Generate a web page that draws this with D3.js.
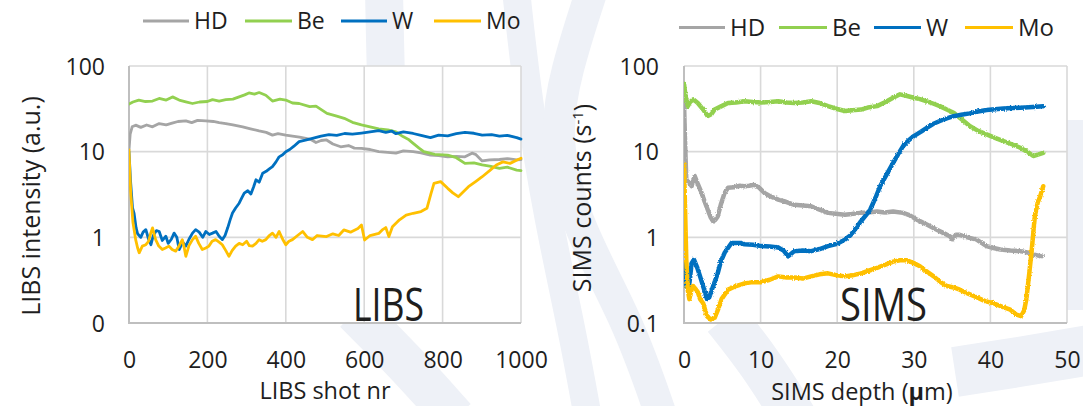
<!DOCTYPE html>
<html>
<head>
<meta charset="utf-8">
<script src="https://cdn.jsdelivr.net/npm/d3@7"></script>
<style>
  html, body { margin: 0; padding: 0; background: #ffffff; }
  svg { display: block; }
  text { font-family: "Open Sans", "Noto Sans", sans-serif; fill: #1e1e1e; }
</style>
</head>
<body>
<svg id="chart" width="1083" height="406"></svg>
<script>
// ---- series names / colours -------------------------------------------
const seriesNames  = ["HD", "Be", "W", "Mo"];
const seriesColors = ["#a5a5a5", "#92d050", "#0070c0", "#ffc000"];

// ---- axis ticks ----------------------------------------------------------
const logTicks        = [0.1, 1, 10, 100];
const libsYTickLabels = ["0", "1", "10", "100"];
const simsYTickLabels = ["0.1", "1", "10", "100"];
const libsShotTicks   = [0, 200, 400, 600, 800, 1000];
const simsDepthTicks  = [0, 10, 20, 30, 40, 50];

// ---- LIBS: [shot number, intensity (a.u.)] -----------------------------
const libsHD = [[0,10.5],[3,16],[8,19.5],[17,20.4],[30,19.2],[45,20.5],[60,19.5],[77,21.3],[95,20.5],[110,21.5],[125,22.5],[145,22.9],[160,21.8],[175,23.2],[196,22.9],[215,22.5],[230,21.8],[247,21.3],[265,20.5],[290,19.5],[310,18.5],[332,17.5],[350,16.8],[366,15.6],[380,16.2],[400,15.6],[417,15.2],[435,14.8],[451,14.3],[465,13.8],[477,12.8],[490,13.5],[504,13.7],[520,12.3],[540,11.4],[560,11.8],[575,11],[593,10.9],[615,10.6],[637,10],[660,9.8],[681,9.6],[700,10.2],[725,10],[745,9.7],[769,9.1],[790,9.0],[813,8.7],[835,8.8],[857,8.7],[875,9.6],[884,9.3],[901,7.8],[920,8.0],[945,8.1],[965,8.3],[989,8.0],[1000,8.1]];
const libsBe = [[0,36],[10,38],[25,40],[42,38.5],[60,39],[77,41.8],[95,40],[111,43.6],[128,40],[145,38.2],[162,36.5],[180,38],[200,38.5],[213,40.5],[230,39],[247,40.5],[265,41],[281,43.6],[295,46],[306,48.5],[320,47],[332,49],[349,45.5],[366,39],[385,41],[400,40],[417,37],[434,36.5],[461,33.5],[477,34],[505,28],[530,26],[549,24.5],[570,22],[593,20.5],[615,19.5],[637,18.5],[660,18],[681,17],[699,15],[712,14],[725,12.5],[740,11],[752,10],[780,9.3],[813,9.1],[835,8.5],[857,7.3],[880,7.4],[901,7.0],[920,6.8],[945,6.4],[965,6.6],[989,6.1],[1000,6.0]];
const libsW = [[0,10],[4,4.5],[9,2.2],[13,1.9],[18,1.3],[22,1.1],[30,1.0],[36,1.15],[43,1.23],[50,0.95],[56,0.82],[62,1.05],[70,1.2],[77,1.17],[85,0.92],[94,1.03],[100,0.85],[108,0.95],[115,1.12],[122,1.0],[128,0.72],[137,0.88],[145,0.79],[153,0.95],[162,1.12],[170,1.23],[179,1.15],[188,1.0],[196,1.17],[205,1.08],[213,1.12],[222,1.17],[230,1.03],[238,0.94],[245,1.05],[252,1.3],[258,1.6],[264,1.92],[272,2.2],[281,2.5],[288,2.9],[294,3.28],[303,3.5],[311,3.2],[318,3.9],[324,4.7],[332,4.4],[341,5.6],[350,5.9],[358,6.3],[366,6.7],[375,7.6],[383,8.7],[392,9.2],[400,10],[410,10.6],[420,11.5],[434,13.1],[450,13.6],[468,14.3],[490,15.2],[510,15.8],[530,15.5],[550,16.3],[570,16],[593,16.5],[615,17],[637,17.6],[655,16.8],[670,17.4],[681,16.2],[700,17],[725,16.3],[745,15.5],[769,14.6],[790,15.6],[813,15.3],[835,16.2],[857,16.8],[880,16.4],[901,15.6],[925,15.8],[945,15.2],[965,15.5],[989,14.6],[1000,14.0]];
const libsMo = [[0,10.5],[2,6],[4.4,3.3],[10,1.5],[17,0.94],[22,0.75],[26,0.66],[34,0.79],[43,0.82],[50,0.9],[55,1.1],[60,1.29],[64,1.1],[68,0.94],[76,0.79],[85,0.72],[93,0.75],[102,0.79],[110,0.72],[119,0.69],[128,0.8],[136,0.94],[141,0.75],[145,0.6],[153,0.8],[162,0.94],[170,1.03],[178,0.85],[187,0.72],[196,0.75],[204,0.79],[212,0.9],[221,0.94],[230,0.88],[238,0.82],[247,0.7],[255,0.6],[263,0.7],[272,0.79],[281,0.85],[290,0.82],[300,0.9],[307,0.8],[315,0.79],[324,0.85],[332,0.94],[340,0.9],[349,0.94],[358,1.05],[366,1.12],[375,1.0],[383,1.17],[392,0.95],[400,0.82],[408,0.9],[417,0.94],[430,1.05],[443,1.17],[455,1.0],[468,0.94],[480,1.05],[504,1.02],[520,1.1],[535,1.05],[548,1.22],[565,1.15],[584,1.27],[593,1.39],[601,0.93],[615,1.05],[637,1.11],[646,1.22],[655,1.3],[663,1.02],[672,1.33],[690,1.6],[707,1.82],[725,1.91],[745,2.0],[760,2.18],[770,3.2],[778,4.27],[795,4.47],[813,3.73],[826,3.3],[840,2.98],[853,3.4],[866,3.9],[885,4.5],[901,5.1],[920,6.0],[937,7.0],[954,7.6],[972,7.3],[990,8.0],[1000,8.4]];

// ---- SIMS: [depth (µm), counts (1/s)] ------------------------------------
const simsHD = [[0,38],[0.15,12],[0.3,4.7],[0.7,4.3],[1.0,3.95],[1.4,5.2],[1.8,4.2],[2.3,3.3],[2.7,2.6],[3.1,2.1],[3.5,1.7],[3.8,1.54],[4.1,1.6],[4.4,1.75],[4.8,2.4],[5.3,3.3],[5.75,3.8],[6.5,3.85],[7.3,4.0],[7.9,3.95],[8.5,4.0],[9.2,4.1],[9.8,3.8],[10.5,3.3],[11.3,3.0],[12.3,2.76],[13.3,2.6],[14.4,2.4],[15.5,2.35],[16.6,2.3],[17.7,2.1],[18.8,1.93],[20.1,1.87],[21,1.83],[21.9,1.87],[23,1.93],[24,1.95],[25.2,2.0],[26.2,1.95],[27.3,2.0],[28.6,1.93],[29.5,1.8],[30.4,1.61],[31.7,1.41],[32.8,1.25],[33.9,1.12],[34.7,1.03],[35,0.95],[35.5,1.07],[36,1.07],[37,1.0],[38.2,0.94],[39.5,0.79],[40.4,0.75],[41.3,0.72],[42.6,0.70],[43.9,0.69],[45,0.66],[45.6,0.63],[46.7,0.60]];
const simsBe = [[0,62],[0.2,45],[0.5,34],[0.8,38],[1.2,40.8],[1.8,37],[2.5,31],[3.1,26],[3.6,27.5],[4.0,31],[4.9,34],[5.75,37],[6.8,37.5],[7.9,38.7],[9,38],[10.1,37.5],[11.2,38],[12.3,38.7],[13.4,37.5],[14.4,37],[15.5,37.5],[16.6,38.7],[17.7,37],[18.8,34],[20,31.5],[21,29.8],[22,30.5],[23.1,31],[24,32.7],[25.2,34],[26.3,38],[27.3,42.6],[28.2,46.7],[29,45],[30,42.6],[30.8,41],[31.7,38.7],[32.5,36.5],[33.4,34],[34.3,31],[35.2,28.5],[36.2,24],[37.3,19.9],[38.4,17.5],[39.5,15.9],[40.6,14.5],[41.7,13.3],[42.8,12.2],[43.9,11.1],[44.8,10],[45.6,8.9],[46.3,9.3],[46.9,9.7]];
const simsW = [[0,0.5],[0.3,0.28],[0.6,0.24],[1.0,0.5],[1.3,0.55],[1.7,0.45],[2.1,0.35],[2.6,0.25],[3.0,0.19],[3.3,0.2],[3.6,0.24],[4.0,0.3],[4.4,0.38],[4.8,0.52],[5.3,0.66],[5.6,0.72],[6.2,0.86],[7.3,0.86],[7.9,0.83],[9,0.82],[10.1,0.79],[11.2,0.78],[12.3,0.76],[13,0.7],[13.6,0.6],[14.4,0.69],[15.5,0.7],[16.6,0.69],[17.7,0.73],[18.8,0.79],[20,0.84],[21,0.94],[21.7,1.05],[22.3,1.23],[23,1.5],[24,1.93],[24.3,2.1],[25,2.9],[25.6,3.95],[26.5,5.5],[27.3,7.4],[28,9.5],[28.6,11.6],[29.3,13.5],[30,15.2],[30.9,17],[31.7,19],[32.5,21],[33.4,22.8],[34.3,24.5],[35.2,26],[36.2,27],[37.3,28],[38.4,29.5],[39.5,30.6],[40.6,31.3],[41.7,32],[42.8,32.3],[43.9,32.6],[45,33],[46,33.5],[46.9,34]];
const simsMo = [[0,7.2],[0.1,3],[0.3,0.55],[0.5,0.24],[0.7,0.19],[1.0,0.25],[1.2,0.27],[1.5,0.25],[1.8,0.23],[2.1,0.19],[2.5,0.17],[3.0,0.12],[3.5,0.11],[4.0,0.115],[4.4,0.14],[4.9,0.19],[5.75,0.245],[6.8,0.27],[7.9,0.29],[9,0.3],[10.1,0.3],[11.2,0.32],[12.3,0.35],[13.4,0.34],[14.4,0.34],[15.5,0.33],[16.6,0.35],[17.7,0.37],[18.8,0.38],[20,0.36],[21,0.35],[22,0.36],[23.1,0.38],[24.2,0.41],[25.2,0.44],[26.3,0.48],[27.3,0.52],[28.2,0.54],[29.1,0.54],[30,0.5],[30.8,0.46],[31.7,0.4],[32.6,0.35],[33.5,0.3],[34.3,0.27],[35.2,0.26],[36,0.245],[37.1,0.22],[38.2,0.2],[39.3,0.18],[40.4,0.17],[41.5,0.155],[42.6,0.143],[43.4,0.125],[44,0.12],[44.4,0.14],[44.7,0.19],[45.1,0.4],[45.4,0.72],[45.8,1.76],[46.2,2.6],[46.5,3.0],[46.9,3.95]];

// ---- drawing -------------------------------------------------------------
const svg = d3.select("#chart");

// rough edge for the densely sampled depth-profile traces
const defs = svg.append("defs");
const rough = defs.append("filter").attr("id", "rough")
  .attr("x", "-5%").attr("y", "-5%").attr("width", "110%").attr("height", "110%");
rough.append("feTurbulence").attr("type", "fractalNoise").attr("baseFrequency", "0.9 0.6")
  .attr("numOctaves", 1).attr("seed", 3).attr("result", "noise");
rough.append("feDisplacementMap").attr("in", "SourceGraphic").attr("in2", "noise")
  .attr("scale", 3).attr("xChannelSelector", "R").attr("yChannelSelector", "G");

// faint background emblem behind both panels
const emblem = svg.append("g").attr("fill", "none").attr("stroke", "#eef1f7").attr("stroke-linecap", "butt");
const bandLine = d3.line().curve(d3.curveBasis);
[
  {pts: [[384,-10],[385,40],[386,80]], w: 38},
  {pts: [[355,312],[405,362],[455,418]], w: 42},
  {pts: [[516,-10],[528,100],[548,220],[572,330],[588,418]], w: 28},
  {pts: [[592,-10],[566,70],[553,140],[578,230],[628,320],[662,418]], w: 32},
  {pts: [[725,318],[760,362],[795,418]], w: 44},
  {pts: [[955,372],[1020,362],[1090,350]], w: 50},
  {pts: [[1076,120],[1076,220],[1076,310]], w: 18}
].forEach(b => emblem.append("path").attr("d", bandLine(b.pts)).attr("stroke-width", b.w));

function panel(cfg) {
  const g = svg.append("g");
  const x = d3.scaleLinear().domain(cfg.xDomain).range(cfg.xRange);
  const y = d3.scaleLog().domain([0.1, 100]).range([323, 66]);
  const [x0, x1] = cfg.xRange;

  // white plot area
  g.append("rect").attr("x", x0).attr("y", 66).attr("width", x1 - x0).attr("height", 323 - 66).attr("fill", "#ffffff");

  // grid
  const grid = g.append("g").attr("stroke", "#d9d9d9").attr("stroke-width", 1.6);
  cfg.xTicks.forEach(t => grid.append("line").attr("x1", x(t)).attr("x2", x(t)).attr("y1", 66).attr("y2", 323));
  logTicks.forEach(t => grid.append("line").attr("x1", x0).attr("x2", x1).attr("y1", y(t)).attr("y2", y(t)));
  // axis lines
  g.append("line").attr("x1", x0).attr("x2", x0).attr("y1", 66).attr("y2", 324).attr("stroke", "#bfbfbf").attr("stroke-width", 2);
  g.append("line").attr("x1", x0 - 1).attr("x2", x1).attr("y1", 323).attr("y2", 323).attr("stroke", "#bfbfbf").attr("stroke-width", 2);

  // tick labels via d3 axes
  const yAxis = d3.axisLeft(y).tickValues(logTicks).tickSize(0).tickPadding(0)
    .tickFormat((d, i) => cfg.yLabels[i]);
  const ya = g.append("g").attr("transform", `translate(${x0 - cfg.yLabelGap},0)`).call(yAxis);
  ya.select(".domain").remove();
  ya.selectAll("text").attr("font-size", 23).attr("font-family", null).attr("fill", "#1e1e1e").attr("dy", "0.36em");

  const xAxis = d3.axisBottom(x).tickValues(cfg.xTicks).tickSize(0).tickPadding(0).tickFormat(d3.format("d"));
  const xa = g.append("g").attr("transform", `translate(0,368)`).call(xAxis);
  xa.select(".domain").remove();
  xa.selectAll("text").attr("font-size", 23).attr("font-family", null).attr("fill", "#1e1e1e").attr("dy", 0).attr("y", 0);

  // series
  const clipId = "clip-" + cfg.id;
  g.append("clipPath").attr("id", clipId).append("rect")
    .attr("x", x0).attr("y", 60).attr("width", x1 - x0 + 2).attr("height", 265);
  const line = d3.line().x(d => x(d[0])).y(d => y(d[1]));
  const lines = g.append("g").attr("clip-path", `url(#${clipId})`).append("g").attr("fill", "none")
    .attr("stroke-linejoin", "round").attr("stroke-linecap", "round");
  if (cfg.rough) lines.attr("filter", "url(#rough)");
  cfg.series.forEach((s, i) => {
    lines.append("path").attr("d", line(s)).attr("stroke", seriesColors[i]).attr("stroke-width", cfg.lineWidth);
  });

  // legend
  const lg = g.append("g");
  seriesNames.forEach((name, i) => {
    const [a, b] = cfg.legend[i];
    lg.append("line").attr("x1", a).attr("x2", b).attr("y1", cfg.legendY).attr("y2", cfg.legendY)
      .attr("stroke", seriesColors[i]).attr("stroke-width", 3);
    lg.append("text").attr("x", b + 5).attr("y", cfg.legendY).attr("dy", "0.36em")
      .attr("font-size", cfg.legendFont).text(name);
  });

  // big panel label
  g.append("text").attr("x", cfg.tag.x).attr("y", 321).attr("font-size", 45)
    .attr("textLength", cfg.tag.w).attr("lengthAdjust", "spacingAndGlyphs").text(cfg.tag.text);

  return g;
}

const left = panel({
  id: "libs",
  xDomain: [0, 1000], xRange: [129, 521], xTicks: libsShotTicks,
  yLabels: libsYTickLabels, yLabelGap: 24,
  series: [libsHD, libsBe, libsW, libsMo], lineWidth: 2.8, rough: false,
  legend: [[143, 189], [245, 292], [341, 387], [434, 481]], legendY: 21, legendFont: 23,
  tag: {text: "LIBS", x: 353, w: 71}
});
left.append("text").attr("x", 325).attr("y", 399).attr("text-anchor", "middle").attr("font-size", 23.5).text("LIBS shot nr");
left.append("text").attr("transform", "translate(40,206) rotate(-90)").attr("text-anchor", "middle")
  .attr("font-size", 25).text("LIBS intensity (a.u.)");

const right = panel({
  id: "sims",
  xDomain: [0, 50], xRange: [684, 1067], xTicks: simsDepthTicks,
  yLabels: simsYTickLabels, yLabelGap: 25,
  series: [simsHD, simsBe, simsW, simsMo], lineWidth: 4.5, rough: true,
  legend: [[679, 725], [779, 827], [874, 921], [965, 1013]], legendY: 27.5, legendFont: 24,
  tag: {text: "SIMS", x: 840, w: 87}
});
const xt = right.append("text").attr("x", 862).attr("y", 400).attr("text-anchor", "middle").attr("font-size", 23.5);
xt.append("tspan").text("SIMS depth (");
xt.append("tspan").attr("font-weight", "bold").text("\u03bc");
xt.append("tspan").text("m)");
const yt = right.append("text").attr("transform", "translate(591,198) rotate(-90)").attr("text-anchor", "middle").attr("font-size", 25);
yt.append("tspan").text("SIMS counts (s");
yt.append("tspan").attr("font-size", 15).attr("dy", "-0.55em").text("-1");
yt.append("tspan").attr("dy", "0.35em").text(")");
</script>
</body>
</html>
